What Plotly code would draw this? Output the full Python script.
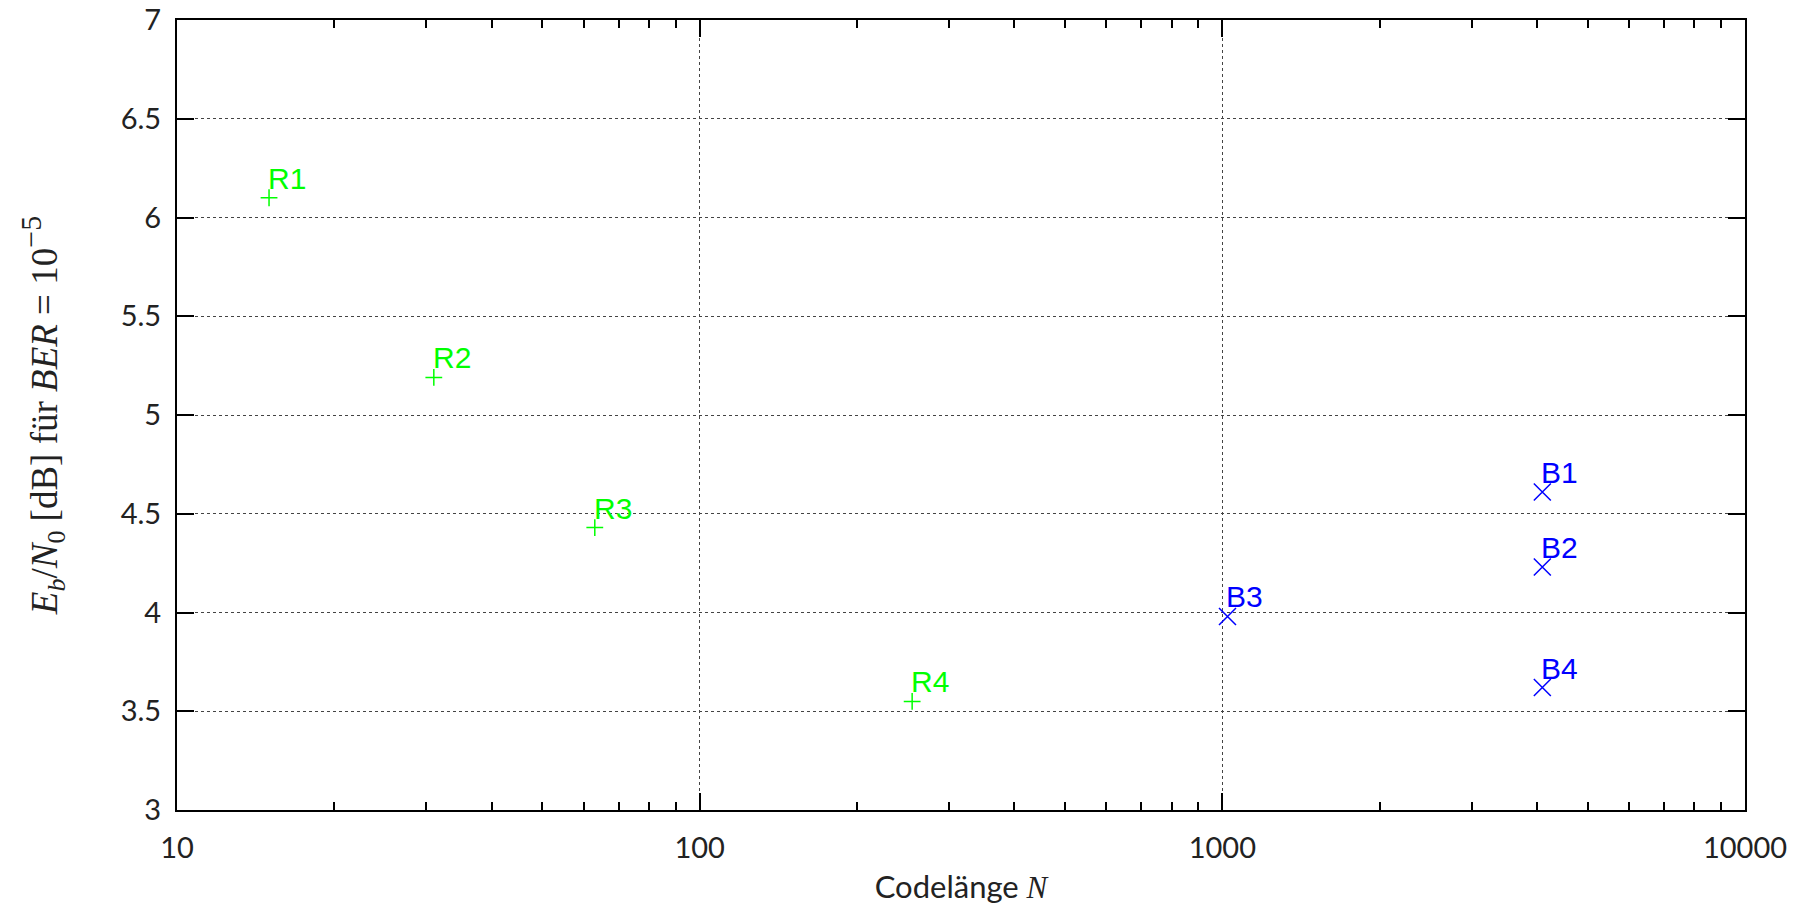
import math
import plotly.graph_objects as go

# Data
r_labels = ["R1", "R2", "R3", "R4"]
r_N = [15, 31, 63, 255]
r_ebn0 = [6.10, 5.19, 4.43, 3.55]

b_labels = ["B1", "B2", "B3", "B4"]
b_N = [4095, 4095, 1023, 4095]
b_ebn0 = [4.61, 4.23, 3.98, 3.62]

x_tickvals = [10, 100, 1000, 10000]
x_ticktext = ["10", "100", "1000", "10000"]
y_tickvals = [3, 3.5, 4, 4.5, 5, 5.5, 6, 6.5, 7]
y_ticktext = ["3", "3.5", "4", "4.5", "5", "5.5", "6", "6.5", "7"]

GREEN = "#00ff00"
BLUE = "#0000ff"

fig = go.Figure()
fig.add_trace(go.Scatter(
    x=r_N, y=r_ebn0, mode="markers",
    marker=dict(symbol="cross-thin-open", size=12, color=GREEN,
                line=dict(color=GREEN, width=1.5)),
    showlegend=False, hoverinfo="x+y"))
fig.add_trace(go.Scatter(
    x=b_N, y=b_ebn0, mode="markers",
    marker=dict(symbol="x-thin-open", size=17, color=BLUE,
                line=dict(color=BLUE, width=1.5)),
    showlegend=False, hoverinfo="x+y"))

label_font = dict(family="Liberation Sans, Arial, sans-serif", size=30)
for lab, xv, yv in zip(r_labels, r_N, r_ebn0):
    fig.add_annotation(x=math.log10(xv), y=yv, xref="x", yref="y", text=lab, showarrow=False,
                       xanchor="left", yanchor="bottom", xshift=-2, yshift=2,
                       borderpad=0, font=dict(color=GREEN, **label_font))
for lab, xv, yv in zip(b_labels, b_N, b_ebn0):
    fig.add_annotation(x=math.log10(xv), y=yv, xref="x", yref="y", text=lab, showarrow=False,
                       xanchor="left", yanchor="bottom", xshift=-2, yshift=2,
                       borderpad=0, font=dict(color=BLUE, **label_font))

tick_font = dict(family="Lato, Open Sans, sans-serif", size=29, color="#222222")

fig.update_xaxes(
    type="log", range=[1, 4],
    tickvals=x_tickvals, ticktext=x_ticktext,
    ticks="inside", ticklen=17, tickwidth=2, tickcolor="black",
    showline=True, linecolor="black", linewidth=2, mirror="ticks",
    showgrid=True, gridcolor="#444444", gridwidth=1, griddash="dot",
    minor=dict(ticks="inside", ticklen=8, tickwidth=2, tickcolor="black",
               dtick="D1", showgrid=False),
    tickfont=tick_font, zeroline=False, ticklabelstandoff=11,
    title=dict(text="Codelänge <span style='font-family:Liberation Serif, serif'><i>N</i></span>",
               font=dict(family="Lato, Open Sans, sans-serif", size=31, color="#222222"),
               standoff=14),
)
fig.update_yaxes(
    range=[3, 7],
    tickvals=y_tickvals, ticktext=y_ticktext,
    ticks="inside", ticklen=17, tickwidth=2, tickcolor="black",
    showline=True, linecolor="black", linewidth=2, mirror="ticks",
    showgrid=True, gridcolor="#444444", gridwidth=1, griddash="dot",
    tickfont=tick_font, zeroline=False, ticklabelstandoff=8,
    title=dict(text="<i>E</i><sub><i>b</i></sub>/<i>N</i><sub>0</sub> [dB] für <i>BER</i> = 10<sup><span style='font-size:30px'>−5</span></sup>",
               font=dict(family="Liberation Serif, DejaVu Serif, serif", size=37, color="#222222"),
               standoff=52),
)

fig.update_layout(
    width=1800, height=905,
    margin=dict(l=177, r=55, t=20, b=95, autoexpand=False),
    paper_bgcolor="white", plot_bgcolor="white",
)

fig.write_html("out.html")
